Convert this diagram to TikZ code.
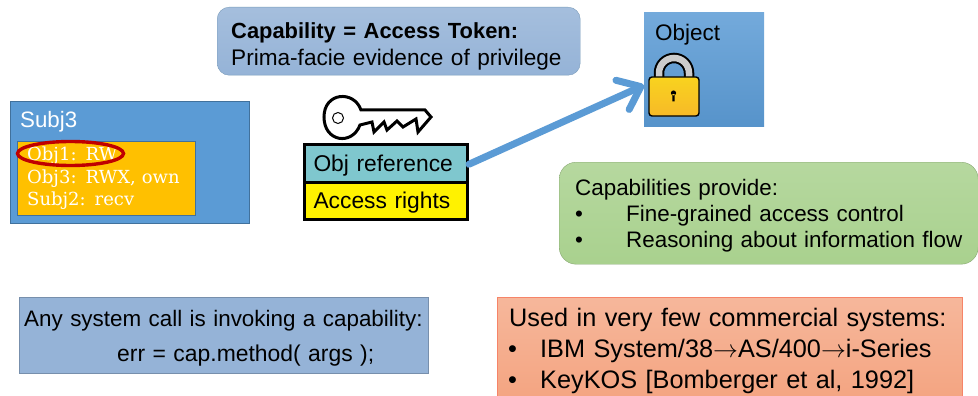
\documentclass[tikz,border=0pt]{standalone}
\usepackage{fontspec}
\setmainfont{Liberation Sans}
\newfontfamily\slabfont{DejaVu Serif}
\usetikzlibrary{arrows.meta,shapes.geometric}

\definecolor{slideblue}{HTML}{5B9BD5}
\definecolor{edgeblue}{HTML}{41719C}
\definecolor{softblue}{HTML}{95B3D7}
\definecolor{softgreen}{HTML}{A9D18E}
\definecolor{softorange}{HTML}{F4A582}
\definecolor{capteal}{HTML}{7FC7CE}
\definecolor{lockgold}{HTML}{F6C02C}
\definecolor{listgold}{HTML}{FFC000}
\definecolor{ringred}{HTML}{C00000}

\newcommand{\droptext}[1]{\rule{0pt}{#1}}

\tikzset{
  box/.style={draw,anchor=north west,align=left,inner xsep=0pt,inner ysep=0pt},
  capcell/.style={draw=black,line width=3pt,anchor=north west,minimum width=163pt,minimum height=37.5pt,
    text width=145pt,align=left,text height=20pt,text depth=4.5pt,inner sep=0pt,font=\fontsize{22.8}{26}\selectfont},
}

\begin{document}
\begin{tikzpicture}[x=1pt,y=-1pt]
   \useasboundingbox (0,0) rectangle (978,396);

   \node[box,draw=edgeblue!70,top color=softblue!85,bottom color=softblue,rounded corners=12pt,
         minimum width=363pt,minimum height=68pt,text width=363pt,font=\fontsize{22.6}{27}\selectfont] (token) at (217,7)
         {\droptext{26pt}\hspace*{14pt}{\fontsize{21.9}{27}\selectfont\textbf{Capability = Access Token:}}\\\hspace*{14pt}Prima-facie evidence of privilege};

   \node[box,draw=none,top color=slideblue!85,bottom color=slideblue!95!black,minimum width=120pt,minimum height=114pt] (object) at (644,12) {};
   \node[anchor=north west,inner sep=0pt,font=\fontsize{22.5}{26}\selectfont] (objname) at (655,24) {Object};

   % padlock
   \draw[line width=10.5pt,black] (659,80) -- (659,73) arc[start angle=180,end angle=360,x radius=15,y radius=15] -- (689,80);
   \draw[line width=6.5pt,gray!40] (659,80) -- (659,73) arc[start angle=180,end angle=360,x radius=15,y radius=15] -- (689,80);
   \draw[line width=1.4pt,black,rounded corners=3pt,top color=lockgold!70!yellow,bottom color=lockgold!90!orange] (649,77) rectangle (699,116);
   \fill[black] (673.5,93) circle (2.6) (672.4,94) rectangle (674.6,101.5);

   \node[box,draw=edgeblue,fill=slideblue,minimum width=239pt,minimum height=122pt] (subj) at (10,101) {};
   \node[anchor=north west,inner sep=0pt,text=white,font=\fontsize{22.3}{26}\selectfont] (subjname) at (20,111) {Subj3};
   \node[box,draw=edgeblue,fill=listgold,minimum width=178pt,minimum height=74pt,
         text width=178pt,text=white,font=\slabfont\fontsize{18}{22.5}\selectfont] (clist) at (17,141)
         {\hspace*{10pt}Obj1: RW\\\hspace*{10pt}Obj3: RWX, own\\\hspace*{10pt}Subj2: recv};
   \node[ellipse,draw=ringred,line width=3.4pt,minimum width=106pt,minimum height=24pt,inner sep=0pt] (obj1ring) at (70.5,153.5) {};

   % key
   \draw[black,line width=3pt,fill=white,line join=miter]
      (361,110) -- (425,110) -- (431,117) -- (418,132) -- (416,119) -- (403,127) -- (397,121)
      -- (387,130) -- (384,122) -- (374,132) -- (372,122) -- (360,125)
      .. controls (352,146) and (324,142) .. (324,117)
      .. controls (324,92) and (354,90) .. (361,110) -- cycle;
   \draw[black,line width=1pt,fill=white] (338,118) circle (5.5);

   \node[capcell,fill=capteal] (objref) at (303,143) {Obj reference};
   \node[capcell,fill=yellow] (rights) at (303,180.5) {Access rights};

   \draw[slideblue,line width=7pt,line cap=round,line join=round,
         -{Straight Barb[length=20pt,width=32pt,line width=7pt,round]}]
        ([yshift=-1pt]objref.east) -- ([yshift=-16pt]object.west);

   \node[box,draw=softgreen!80!black,top color=softgreen!85,bottom color=softgreen,rounded corners=17pt,
         minimum width=419pt,minimum height=102pt,text width=419pt,font=\fontsize{22.4}{26}\selectfont] (provide) at (559,162)
         {\droptext{22pt}\hspace*{16pt}Capabilities provide:\\
          \hspace*{16pt}\makebox[51pt][l]{•}Fine-grained access control\\
          \hspace*{16pt}\makebox[51pt][l]{•}Reasoning about information flow};

   \node[box,draw=softblue!80!black,fill=softblue,minimum width=409pt,minimum height=76pt,text width=409pt,
         font=\fontsize{22.4}{34.5}\selectfont] (syscall) at (19,297)
         {\droptext{22pt}\hspace*{5pt}Any system call is invoking a capability:\\
          \hspace*{98pt}{\fontsize{22.9}{34.5}\selectfont err = cap.method( args );}};

   \node[box,draw=softorange!80!red,top color=softorange!80,bottom color=softorange,minimum width=465pt,minimum height=99pt,text width=465pt,
         font=\fontsize{25.3}{31}\selectfont] (commercial) at (497,297)
         {\droptext{26pt}\hspace*{12pt}Used in very few commercial systems:\\
          \hspace*{11pt}\makebox[32pt][l]{•}IBM System/38$\rightarrow$AS/400$\rightarrow$i-Series\\
          \hspace*{11pt}\makebox[32pt][l]{•}KeyKOS [Bomberger et al, 1992]};
\end{tikzpicture}
\end{document}
